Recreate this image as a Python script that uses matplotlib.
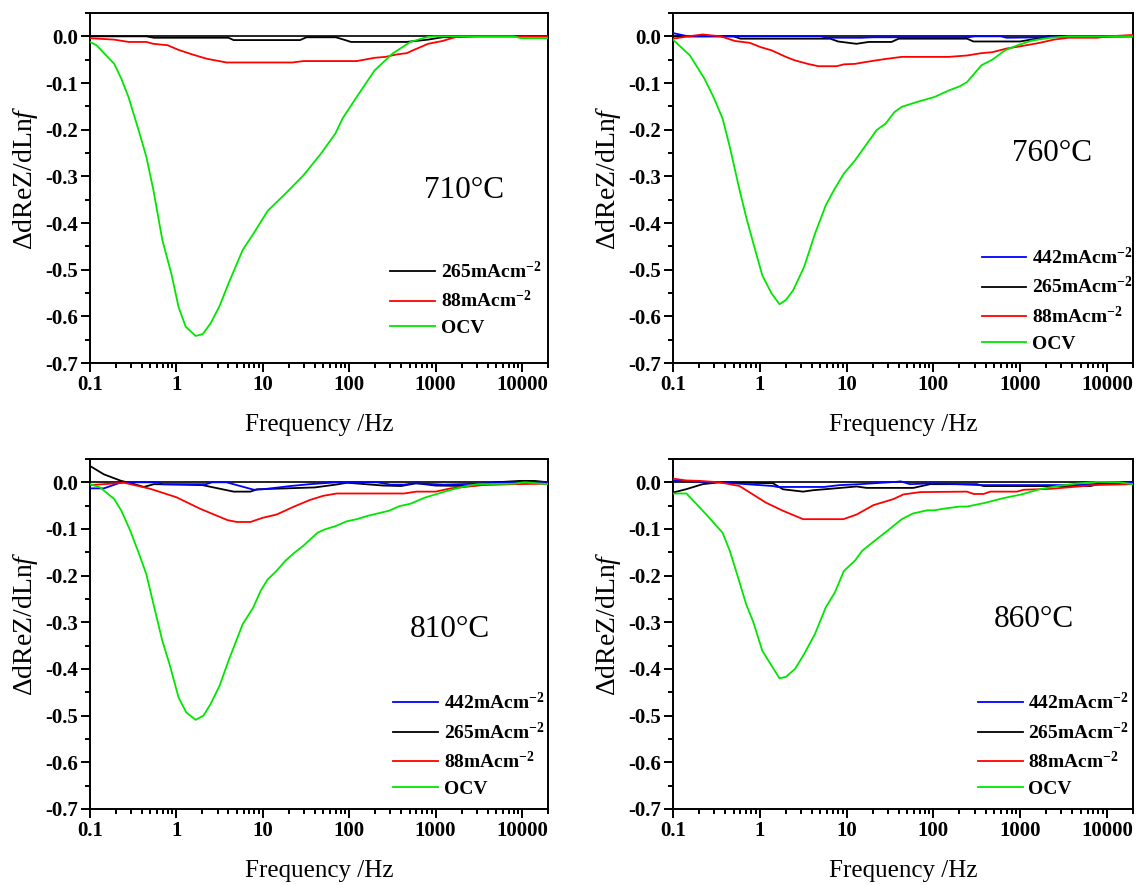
import matplotlib
matplotlib.use("Agg")
import matplotlib.pyplot as plt
from matplotlib.ticker import FixedLocator, FixedFormatter, LogLocator, NullFormatter, MultipleLocator

plt.rcParams['font.family'] = 'Liberation Serif'
plt.rcParams['mathtext.fontset'] = 'custom'
plt.rcParams['mathtext.rm'] = 'Liberation Serif'
plt.rcParams['mathtext.it'] = 'Liberation Serif:italic'
plt.rcParams['mathtext.bf'] = 'Liberation Serif:bold'
plt.rcParams['axes.unicode_minus'] = False

# ---- data (frequency in Hz, dReZ/dLnf) ----
# 710 C
ocv_710_f = [0.1, 0.119, 0.191, 0.231, 0.279, 0.371, 0.449, 0.543, 0.689, 0.873, 1.06, 1.28, 1.67, 2.02, 2.49,
             3.16, 4.0, 5.85, 7.78, 11.4, 18.3, 29.5, 47.3, 69.3, 83.8, 122, 197, 317, 510, 820, 1000, 8000, 9800, 20000]
ocv_710_v = [-0.012, -0.019, -0.059, -0.091, -0.130, -0.205, -0.258, -0.330, -0.437, -0.508, -0.580, -0.622, -0.642,
             -0.638, -0.615, -0.578, -0.530, -0.458, -0.423, -0.374, -0.337, -0.298, -0.251, -0.208, -0.176, -0.130,
             -0.073, -0.037, -0.012, -0.001, 0.0, 0.0, -0.004, -0.004]
red_710_f = [0.1, 0.19, 0.28, 0.45, 0.54, 0.79, 1.06, 1.54, 2.25, 3.8, 22, 29.5, 122, 197, 263, 349, 464, 561, 820,
             1200, 1600, 1930, 20000]
red_710_v = [-0.004, -0.007, -0.012, -0.012, -0.016, -0.019, -0.029, -0.039, -0.048, -0.056, -0.056, -0.053, -0.053,
             -0.046, -0.044, -0.039, -0.036, -0.029, -0.016, -0.010, -0.003, 0.0, 0.0]
black_710_f = [0.1, 0.45, 0.55, 4.0, 4.6, 27, 32, 70, 90, 105, 460, 820, 1200, 3000, 20000]
black_710_v = [0.0, 0.0, -0.003, -0.003, -0.008, -0.008, -0.002, -0.002, -0.008, -0.012, -0.012, -0.007, -0.002, 0.0, 0.0]

# 760 C
ocv_760_f = [0.1, 0.157, 0.231, 0.293, 0.373, 0.452, 0.575, 0.697, 0.845, 1.07, 1.37, 1.69, 2.0, 2.43, 3.25, 4.33,
             5.77, 7.34, 9.33, 12.5, 18.3, 22.2, 28.2, 35.8, 43.4, 63.8, 103, 151, 202, 245, 359, 479, 671, 940, 1380,
             2230, 3610, 20000]
ocv_760_v = [-0.007, -0.041, -0.091, -0.130, -0.176, -0.237, -0.323, -0.387, -0.444, -0.512, -0.551, -0.574, -0.565,
             -0.544, -0.494, -0.423, -0.362, -0.326, -0.294, -0.266, -0.223, -0.201, -0.187, -0.162, -0.151, -0.141,
             -0.130, -0.116, -0.107, -0.098, -0.062, -0.050, -0.030, -0.019, -0.009, -0.003, 0.0, 0.0]
red_760_f = [0.1, 0.15, 0.22, 0.355, 0.52, 0.77, 1.02, 1.37, 2.0, 2.5, 3.57, 4.76, 7.7, 9.33, 12.5, 16.6, 26.9, 43.4,
             151, 245, 359, 479, 705, 1035, 1675, 2460, 3610, 7780, 10300, 20000]
red_760_v = [-0.005, 0.0, 0.004, 0.0, -0.010, -0.014, -0.023, -0.030, -0.044, -0.051, -0.059, -0.064, -0.064, -0.060,
             -0.059, -0.055, -0.049, -0.044, -0.044, -0.041, -0.036, -0.034, -0.026, -0.021, -0.014, -0.007, -0.003,
             -0.003, 0.0, 0.003]
black_760_f = [0.1, 0.25, 0.5, 0.6, 6.5, 8, 13, 18, 33, 40, 245, 290, 1000, 2200, 20000]
black_760_v = [0.0, 0.0, 0.0, -0.005, -0.005, -0.011, -0.016, -0.012, -0.012, -0.005, -0.005, -0.011, -0.011, 0.0, 0.0]
blue_760_f = [0.1, 0.15, 5, 6, 15, 20, 250, 300, 600, 700, 2000, 20000]
blue_760_v = [0.007, 0.0, 0.0, -0.003, -0.003, -0.002, -0.002, 0.0, 0.0, -0.003, -0.002, 0.0]

# 810 C
ocv_810_f = [0.1, 0.131, 0.191, 0.231, 0.293, 0.371, 0.449, 0.543, 0.689, 0.834, 1.06, 1.30, 1.67, 2.06, 2.49, 3.16,
             4.0, 5.85, 7.78, 9.42, 11.4, 14.4, 18.3, 23.2, 29.5, 35.6, 43.1, 52.1, 69.3, 92.2, 122, 163, 288, 384,
             510, 746, 993, 1452, 2124, 3106, 8040, 10700, 20000]
ocv_810_v = [-0.004, -0.011, -0.036, -0.061, -0.104, -0.154, -0.197, -0.261, -0.340, -0.390, -0.461, -0.493, -0.509,
             -0.500, -0.475, -0.436, -0.383, -0.304, -0.268, -0.233, -0.208, -0.190, -0.168, -0.151, -0.136, -0.122,
             -0.108, -0.101, -0.094, -0.084, -0.079, -0.072, -0.061, -0.051, -0.046, -0.033, -0.026, -0.017, -0.009,
             -0.004, -0.003, 0.0, -0.004]
red_810_f = [0.1, 0.25, 0.5, 1.0, 1.9, 3.9, 5.0, 7.2, 10, 14.5, 23, 35, 50, 72, 430, 600, 1000, 1500, 3500, 8000, 20000]
red_810_v = [-0.006, -0.001, -0.014, -0.032, -0.057, -0.081, -0.085, -0.085, -0.076, -0.069, -0.052, -0.038, -0.029,
             -0.024, -0.024, -0.020, -0.020, -0.013, -0.006, -0.004, -0.003]
black_810_f = [0.1, 0.145, 0.23, 0.3, 0.42, 0.55, 2.0, 4.6, 7.2, 8.6, 40, 70, 95, 250, 400, 600, 1000, 2500, 3600,
               5000, 9500, 14000, 20000]
black_810_v = [0.035, 0.017, 0.003, -0.002, -0.010, -0.004, -0.006, -0.020, -0.020, -0.015, -0.011, -0.005, -0.001,
               -0.007, -0.008, -0.002, -0.007, -0.008, -0.004, 0.0, 0.003, 0.003, 0.0]
blue_810_f = [0.1, 0.145, 0.23, 0.6, 0.7, 2.2, 2.6, 3.8, 7.9, 10, 12.3, 21, 35, 72, 210, 300, 430, 560, 1240, 3000,
              8000, 20000]
blue_810_v = [-0.013, -0.013, 0.0, 0.0, -0.004, -0.004, 0.0, 0.0, -0.016, -0.015, -0.013, -0.008, -0.004, 0.0, 0.0,
              -0.005, -0.005, -0.002, -0.005, -0.003, 0.0, 0.0]

# 860 C
ocv_860_f = [0.1, 0.143, 0.181, 0.242, 0.373, 0.452, 0.548, 0.697, 0.845, 1.07, 1.37, 1.69, 2.0, 2.55, 3.25, 4.33,
             5.77, 7.34, 9.33, 12.5, 15.1, 22.2, 29.6, 43.4, 58, 85, 103, 138, 202, 245, 396, 640, 1035, 1675, 2700,
             4370, 7780, 13800, 20000]
ocv_860_v = [-0.024, -0.024, -0.044, -0.069, -0.108, -0.147, -0.197, -0.261, -0.300, -0.361, -0.393, -0.420, -0.417,
             -0.400, -0.368, -0.325, -0.268, -0.236, -0.190, -0.168, -0.147, -0.122, -0.104, -0.079, -0.067, -0.060,
             -0.060, -0.056, -0.052, -0.052, -0.044, -0.034, -0.026, -0.015, -0.008, -0.003, 0.001, 0.0, -0.004]
red_860_f = [0.1, 0.141, 0.201, 0.343, 0.584, 1.19, 1.85, 3.16, 9.2, 13.1, 20.4, 34.7, 45.3, 70.5, 244, 292, 380, 454,
             923, 1100, 2240, 5440, 6800, 20000]
red_860_v = [0.008, 0.004, 0.003, 0.0, -0.008, -0.044, -0.061, -0.079, -0.079, -0.069, -0.049, -0.036, -0.026, -0.021,
             -0.020, -0.025, -0.025, -0.020, -0.020, -0.016, -0.014, -0.008, -0.006, -0.004]
black_860_f = [0.1, 0.141, 0.22, 0.343, 1.42, 1.85, 3.16, 4.12, 6.4, 13.1, 17, 59, 92, 318, 380, 6500, 8000, 20000]
black_860_v = [-0.022, -0.015, -0.004, 0.0, -0.002, -0.015, -0.020, -0.017, -0.014, -0.009, -0.012, -0.012, -0.004,
               -0.004, -0.008, -0.008, -0.004, 0.0]
blue_860_f = [0.1, 0.22, 0.343, 1.42, 1.6, 5.5, 8.4, 14.3, 37.8, 42, 54, 100, 346, 4000, 20000]
blue_860_v = [0.004, 0.001, 0.0, -0.008, -0.010, -0.010, -0.006, -0.004, 0.001, 0.002, -0.004, -0.002, -0.006, -0.006, 0.0]

temps = ['710°C', '760°C', '810°C', '860°C']
temp_pos = [(2160, -0.330), (2350, -0.251), (1480, -0.315), (1450, -0.295)]
labels = {'blue': '442mAcm$^{\\mathbf{-2}}$', 'black': '265mAcm$^{\\mathbf{-2}}$',
          'red': '88mAcm$^{\\mathbf{-2}}$', 'ocv': 'OCV'}
xticks = [0.1, 1, 10, 100, 1000, 10000]
xticklabels = ['0.1', '1', '10', '100', '1000', '10000']
yticks = [-0.7, -0.6, -0.5, -0.4, -0.3, -0.2, -0.1, 0.0]
yticklabels = ['-0.7', '-0.6', '-0.5', '-0.4', '-0.3', '-0.2', '-0.1', '0.0']

panels = [
    dict(ocv=(ocv_710_f, ocv_710_v), red=(red_710_f, red_710_v), black=(black_710_f, black_710_v), blue=None),
    dict(ocv=(ocv_760_f, ocv_760_v), red=(red_760_f, red_760_v), black=(black_760_f, black_760_v),
         blue=(blue_760_f, blue_760_v)),
    dict(ocv=(ocv_810_f, ocv_810_v), red=(red_810_f, red_810_v), black=(black_810_f, black_810_v),
         blue=(blue_810_f, blue_810_v)),
    dict(ocv=(ocv_860_f, ocv_860_v), red=(red_860_f, red_860_v), black=(black_860_f, black_860_v),
         blue=(blue_860_f, blue_860_v)),
]

# axes rectangles in figure fractions (left, bottom, width, height)
rects = [(0.0792, 0.5898, 0.4032, 0.3955), (0.5924, 0.5898, 0.4049, 0.3955),
         (0.0792, 0.0859, 0.4032, 0.3955), (0.5924, 0.0859, 0.4049, 0.3955)]
legend_anchor = [(0.655, 0.292), (0.671, 0.332), (0.662, 0.334), (0.663, 0.334)]

fig = plt.figure(figsize=(11.36, 8.85), dpi=100)

for i, p in enumerate(panels):
    ax = fig.add_axes(rects[i])
    ax.axhline(0, color='black', lw=1.2, zorder=1)
    h_black, = ax.plot(*p['black'], color='black', lw=1.3, zorder=2)
    handles = []
    if p['blue'] is not None:
        h_blue, = ax.plot(*p['blue'], color='#0000ff', lw=1.3, zorder=3)
        handles.append((h_blue, labels['blue']))
    handles.append((h_black, labels['black']))
    h_red, = ax.plot(*p['red'], color='#ff0000', lw=1.3, zorder=4)
    h_ocv, = ax.plot(*p['ocv'], color='#00e600', lw=1.3, zorder=5)
    handles += [(h_red, labels['red']), (h_ocv, labels['ocv'])]

    ax.set_xscale('log')
    ax.set_xlim(0.1, 20000)
    ax.set_ylim(-0.7, 0.05)
    ax.xaxis.set_major_locator(FixedLocator(xticks))
    ax.xaxis.set_major_formatter(FixedFormatter(xticklabels))
    ax.xaxis.set_minor_locator(LogLocator(base=10, subs=range(2, 10), numticks=20))
    ax.xaxis.set_minor_formatter(NullFormatter())
    ax.yaxis.set_major_locator(FixedLocator(yticks))
    ax.yaxis.set_major_formatter(FixedFormatter(yticklabels))
    ax.yaxis.set_minor_locator(MultipleLocator(0.05))
    ax.tick_params(which='both', direction='out', top=False, right=False, width=1.4)
    ax.tick_params(which='major', length=6.5, labelsize=15, pad=2)
    ax.tick_params(which='minor', length=3.5)
    for lab in ax.get_xticklabels() + ax.get_yticklabels():
        lab.set_fontweight('bold')
    for sp in ax.spines.values():
        sp.set_linewidth(1.4)

    ax.set_xlabel('Frequency /Hz', fontsize=18)
    ax.xaxis.set_label_coords(0.5, -0.146)
    ax.set_ylabel('ΔdReZ/dLn$\\mathit{f}$', fontsize=20)
    ax.yaxis.set_label_coords(-0.109, 0.529)

    ax.text(temp_pos[i][0], temp_pos[i][1], temps[i], fontsize=22.5, ha='center', va='center')

    leg = ax.legend([h for h, _ in handles], [l for _, l in handles], loc='upper left',
                    bbox_to_anchor=legend_anchor[i], frameon=False, borderpad=0, borderaxespad=0,
                    handlelength=2.3, handletextpad=0.3, labelspacing=0.42,
                    prop={'weight': 'bold', 'size': 14})

fig.savefig('out.png', dpi=100)
